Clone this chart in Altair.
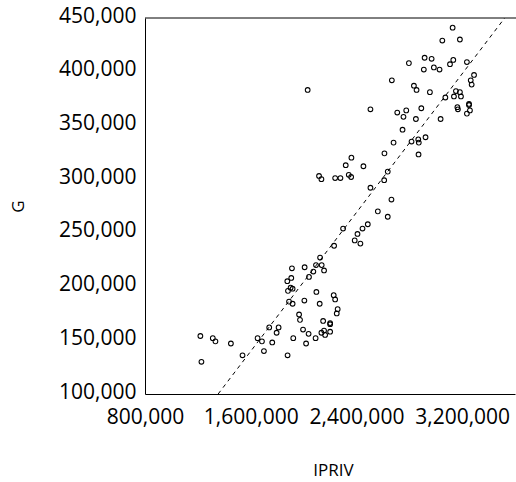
import altair as alt
import pandas as pd

# IPRIV / G observations
ipriv = [
    3128000, 3050000, 3183000, 2916000, 2969000, 2797000, 3133000, 3108000, 3236000, 2910000,
    2986000, 3029000, 3290000, 3265000, 3272000, 2668000, 2835000, 2855000, 2956000, 2031000,
    3153000, 3183000, 3138000, 3191000, 3073000, 3252000, 3252000, 3164000, 3168000, 3259000,
    3236000, 2506000, 2709000, 2777000, 2891000, 2756000, 2850000, 3037000, 2749000, 2817000,
    2868000, 2923000, 2872000, 2681000, 2612000, 2870000, 2362000, 2319000, 2453000, 2117000,
    2135000, 2239000, 2279000, 2342000, 2360000, 2637000, 2610000, 2506000, 2665000, 2562000,
    2637000, 2486000, 2446000, 2408000, 2387000, 2430000, 2299000, 2231000, 2125000, 2094000,
    2137000, 2155000, 2074000, 2041000, 2008000, 1912000, 1907000, 1877000, 1902000, 1917000,
    1882000, 2097000, 2228000, 2239000, 1890000, 1917000, 2006000, 2122000, 2258000, 2251000,
    1966000, 1973000, 2148000, 2201000, 2201000, 2155000, 2201000, 2135000, 2163000, 1996000,
    2038000, 2091000, 1922000, 2019000, 1879000, 1740000, 1811000, 1796000, 1652000, 1685000,
    1763000, 1700000, 1538000, 1450000, 1313000, 1333000, 1219000, 1227000,
]
g = [
    441000, 429000, 430000, 413000, 412000, 408000, 411000, 407000, 409000, 402000,
    404000, 402000, 397000, 392000, 388000, 392000, 387000, 383000, 381000, 383000,
    382000, 381000, 377000, 377000, 376000, 370000, 369000, 367000, 365000, 364000,
    361000, 365000, 362000, 364000, 366000, 358000, 356000, 356000, 346000, 335000,
    337000, 339000, 334000, 334000, 324000, 323000, 320000, 313000, 312000, 303000,
    300000, 301000, 301000, 304000, 302000, 307000, 299000, 292000, 281000, 270000,
    265000, 258000, 254000, 249000, 243000, 240000, 254000, 238000, 227000, 220000,
    220000, 215000, 214000, 209000, 218000, 217000, 208000, 205000, 199000, 198000,
    196000, 195000, 192000, 188000, 186000, 184000, 187000, 184000, 179000, 175000,
    174000, 169000, 168000, 166000, 165000, 159000, 158000, 157000, 155000, 160000,
    156000, 152000, 152000, 147000, 136000, 162000, 162000, 157000, 152000, 149000,
    148000, 140000, 136000, 147000, 152000, 149000, 154000, 130000,
]

# Fitted reference line (end points)
fit_x = [1353500, 3522000]
fit_g = [100000, 450000]

x_ticks = [800000, 1600000, 2400000, 3200000]
y_ticks = [100000, 150000, 200000, 250000, 300000, 350000, 400000, 450000]

points = pd.DataFrame({"IPRIV": ipriv, "G": g})
fit = pd.DataFrame({"IPRIV": fit_x, "G": fit_g})

FONT = "Open Sans"

x_scale = alt.Scale(domain=[800000, 3600000], nice=False, zero=False)
y_scale = alt.Scale(domain=[100000, 450000], nice=False, zero=False)

x_axis = alt.Axis(
    values=x_ticks, format=",d", title="IPRIV", ticks=False, tickSize=0,
    grid=False, labelPadding=12, labelFontSize=21, labelFont=FONT,
    labelColor="#000000", titleFont=FONT, titleFontSize=17, titleFontWeight="normal",
    titleColor="#000000", titleBaseline="middle", titleY=76, titleX=188,
    domainColor="#000000", labelOverlap=False, labelFlush=False, labelBound=False,
)
y_axis = alt.Axis(
    values=y_ticks, format=",d", title="G", ticks=False, tickSize=0,
    grid=False, labelPadding=9, labelFontSize=21, labelFont=FONT,
    labelColor="#000000", titleFont=FONT, titleFontSize=17, titleFontWeight="normal",
    titleColor="#000000", titleBaseline="middle", titleX=-127, titleAngle=-90,
    domainColor="#000000", labelOverlap=False, labelOffset=-2,
    labelFlush=False, labelBound=False,
)

scatter = alt.Chart(points).mark_point(
    shape="circle", filled=False, size=22, stroke="#000000", strokeWidth=1.1, opacity=1
).encode(
    x=alt.X("IPRIV:Q", scale=x_scale, axis=x_axis),
    y=alt.Y("G:Q", scale=y_scale, axis=y_axis),
)

fit_line = alt.Chart(fit).mark_line(
    color="#000000", strokeWidth=1, strokeDash=[4, 4]
).encode(
    x=alt.X("IPRIV:Q", scale=x_scale),
    y=alt.Y("G:Q", scale=y_scale),
)

# top edge of the plot frame
top_edge = alt.Chart(pd.DataFrame({"k": [0]})).mark_rule(
    color="#000000", strokeWidth=1
).encode(x=alt.value(0), x2=alt.value(372), y=alt.value(0))

chart = alt.layer(scatter, fit_line, top_edge).properties(
    width=370,
    height=376,
    autosize=alt.AutoSizeParams(type="none"),
    padding={"left": 145, "top": 18, "right": 1, "bottom": 88},
    background="#ffffff",
).configure_view(stroke=None)

chart.save("out.html", embed_options={"renderer": "svg", "actions": False})
